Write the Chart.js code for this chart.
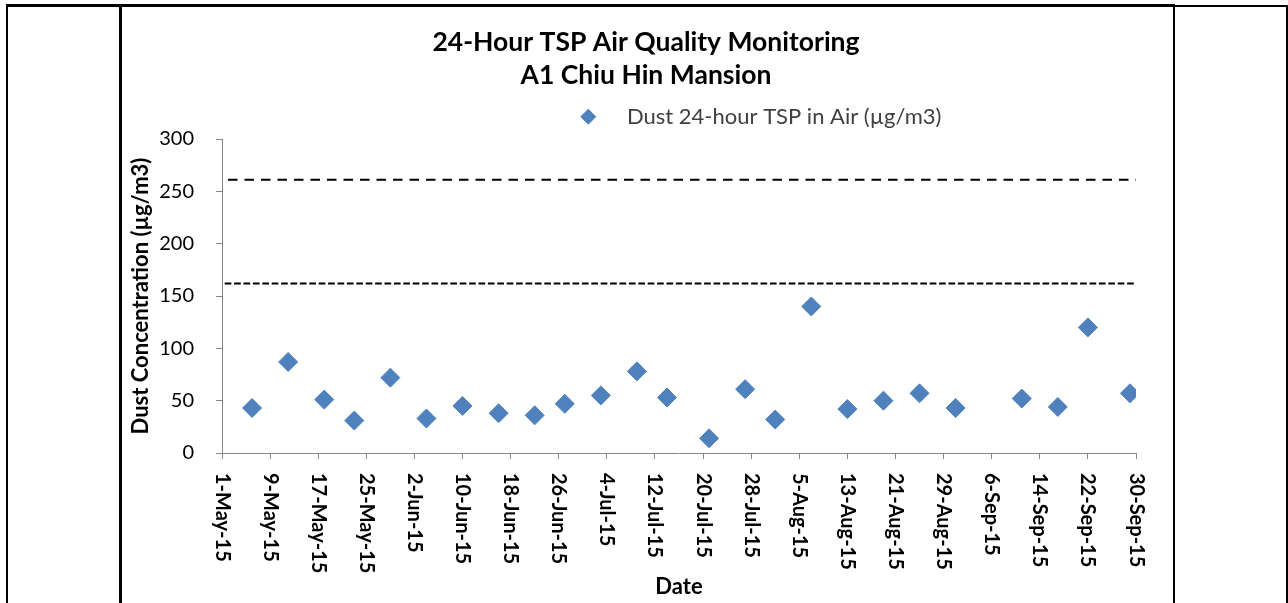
<!DOCTYPE html>
<html>
<head>
<meta charset="utf-8">
<title>24-Hour TSP Air Quality Monitoring</title>
<script src="https://cdn.jsdelivr.net/npm/chart.js@4.4.0/dist/chart.umd.min.js"></script>
<style>
  body { margin: 0; background: #fff; }
  #page { position: relative; width: 1288px; height: 603px; overflow: hidden; background: #fff; }
  #wrap { position: absolute; left: 122px; top: 7px; width: 1051px; height: 596px; }
  .rule { position: absolute; background: #000; }
</style>
</head>
<body>
<div id="page">
  <div id="wrap"><canvas id="chart" width="1051" height="596"></canvas></div>
  <!-- table cell borders round the chart -->
  <div class="rule" style="left:6px;top:4px;width:1168px;height:3px"></div>
  <div class="rule" style="left:1174px;top:5px;width:114px;height:2px"></div>
  <div class="rule" style="left:6px;top:4px;width:2px;height:599px"></div>
  <div class="rule" style="left:119px;top:4px;width:3px;height:599px"></div>
  <div class="rule" style="left:1173px;top:4px;width:2px;height:599px"></div>
  <div class="rule" style="left:1286px;top:5px;width:2px;height:598px"></div>
</div>
<script>
// sampling days and measured 24-hour TSP (ug/m3)
const sampleDates = [
  '2015-05-06', '2015-05-12', '2015-05-18', '2015-05-23', '2015-05-29',
  '2015-06-04', '2015-06-10', '2015-06-16', '2015-06-22', '2015-06-27',
  '2015-07-03', '2015-07-09', '2015-07-14', '2015-07-21', '2015-07-27',
  '2015-08-01', '2015-08-07', '2015-08-13', '2015-08-19', '2015-08-25',
  '2015-08-31', '2015-09-11', '2015-09-17', '2015-09-22', '2015-09-29'
];
const tspValues = [
  43, 87, 51, 31, 72,
  33, 45, 38, 36, 47,
  55, 78, 53, 14, 61,
  32, 140, 42, 50, 57,
  43, 52, 44, 120, 57
];
const xTickLabels = [
  '1-May-15', '9-May-15', '17-May-15', '25-May-15', '2-Jun-15', '10-Jun-15', '18-Jun-15',
  '26-Jun-15', '4-Jul-15', '12-Jul-15', '20-Jul-15', '28-Jul-15', '5-Aug-15', '13-Aug-15',
  '21-Aug-15', '29-Aug-15', '6-Sep-15', '14-Sep-15', '22-Sep-15', '30-Sep-15'
];
const startDate = '2015-05-01';
const endDate = '2015-09-30';
const actionLevel = 162;
const limitLevel = 261;

const FONT = 'Lato, "Open Sans", sans-serif';
const BLUE = '#4F81BD';
const AXIS = '#868686';

const dayOf = s => Math.round((Date.parse(s + 'T00:00:00Z') - Date.parse(startDate + 'T00:00:00Z')) / 86400000);
const lastDay = dayOf(endDate);

const points = sampleDates.map((d, i) => ({ x: dayOf(d), y: tspValues[i] }));
const levelLine = v => [{ x: 0, y: v }, { x: lastDay, y: v }];

// x tick labels read top-to-bottom in the original, so draw them turned clockwise
const xLabels = {
  id: 'xLabels',
  afterDraw(chart) {
    const sc = chart.scales.x;
    const ctx = chart.ctx;
    ctx.save();
    ctx.font = 'bold 20px ' + FONT;
    ctx.fillStyle = '#000';
    ctx.textAlign = 'left';
    ctx.textBaseline = 'middle';
    sc.ticks.forEach((t, i) => {
      ctx.save();
      ctx.translate(sc.getPixelForValue(t.value), sc.top + 20);
      ctx.rotate(Math.PI / 2);
      ctx.fillText(xTickLabels[i] || '', 0, 0);
      ctx.restore();
    });
    ctx.restore();
  }
};

// title is centred on the whole cell, legend sits right of centre and a bit higher
const boxPlace = {
  id: 'boxPlace',
  afterLayout(chart) {
    const tb = chart.titleBlock;
    if (tb) {
      const tdx = 524 - (tb.left + tb.right) / 2;
      tb.left += tdx; tb.right += tdx;
    }
    const lg = chart.legend;
    if (!lg || !lg.lineWidths) return;
    const fs = lg.options.labels.font.size;
    const start = (lg.left + lg.right - (lg.lineWidths[0] - lg.options.labels.padding)) / 2;
    const dx = 466.3 - (start + fs / 2);
    const dy = -1.3;
    lg.left += dx; lg.right += dx;
    lg.top += dy; lg.bottom += dy;
  }
};

new Chart(document.getElementById('chart'), {
  type: 'scatter',
  data: {
    datasets: [
      {
        label: 'Dust 24-hour TSP in Air (\u00b5g/m3)',
        data: points,
        pointStyle: 'rectRot',
        pointRadius: 9.5,
        pointHoverRadius: 9.5,
        backgroundColor: BLUE,
        borderColor: BLUE,
        borderWidth: 1,
      },
      {
        type: 'line',
        label: 'Limit Level',
        data: levelLine(limitLevel),
        borderColor: '#000',
        borderWidth: 2,
        borderDash: [9.5, 7],
        borderDashOffset: 10.5,
        pointRadius: 0,
        fill: false,
      },
      {
        type: 'line',
        label: 'Action Level',
        data: levelLine(actionLevel),
        borderColor: '#000',
        borderWidth: 2,
        borderDash: [6.7, 2.7],
        borderDashOffset: 6.7,
        pointRadius: 0,
        fill: false,
      },
    ],
  },
  options: {
    responsive: false,
    animation: false,
    devicePixelRatio: 1,
    layout: { padding: { left: 0, right: 37, top: 0, bottom: 0 } },
    plugins: {
      title: {
        display: true,
        text: ['24-Hour TSP Air Quality Monitoring', 'A1 Chiu Hin Mansion'],
        color: '#000',
        font: { family: FONT, size: 26.5, weight: 'bold', lineHeight: '33px' },
        padding: { top: 18.5, bottom: 0 },
      },
      legend: {
        display: true,
        position: 'top',
        labels: {
          usePointStyle: true,
          boxHeight: 10.6,
          padding: 15.5,
          color: '#404040',
          font: { family: FONT, size: 22 },
          generateLabels(chart) {
            return Chart.defaults.plugins.legend.labels.generateLabels(chart)
              .filter(it => it.datasetIndex === 0)
              .map(it => ({ ...it, text: '\u2002 ' + it.text }));
          },
        },
      },
      tooltip: { enabled: false },
    },
    scales: {
      x: {
        type: 'linear',
        min: 0,
        max: lastDay,
        afterFit(scale) { scale.height = 150; },
        ticks: { stepSize: 8, autoSkip: false, maxRotation: 0, color: 'rgba(0,0,0,0)', font: { family: FONT, size: 20 } },
        grid: { drawOnChartArea: false, tickLength: 6, color: AXIS },
        border: { display: true, color: AXIS, width: 1 },
        title: {
          display: true,
          text: 'Date',
          color: '#000',
          font: { family: FONT, size: 22, weight: 'bold' },
          padding: { top: 0, bottom: 2.8 },
        },
      },
      y: {
        min: 0,
        max: 300,
        afterFit(scale) { scale.width = 100; },
        ticks: { stepSize: 50, color: '#000', padding: 22, font: { family: FONT, size: 20 } },
        grid: { drawOnChartArea: false, tickLength: 6, color: AXIS },
        border: { display: true, color: AXIS, width: 1 },
        title: {
          display: true,
          text: 'Dust Concentration (\u00b5g/m3)',
          color: '#000',
          font: { family: FONT, size: 22, weight: 'bold' },
          padding: { top: 5.8, bottom: 0 },
        },
      },
    },
  },
  plugins: [xLabels, boxPlace],
});
</script>
</body>
</html>
